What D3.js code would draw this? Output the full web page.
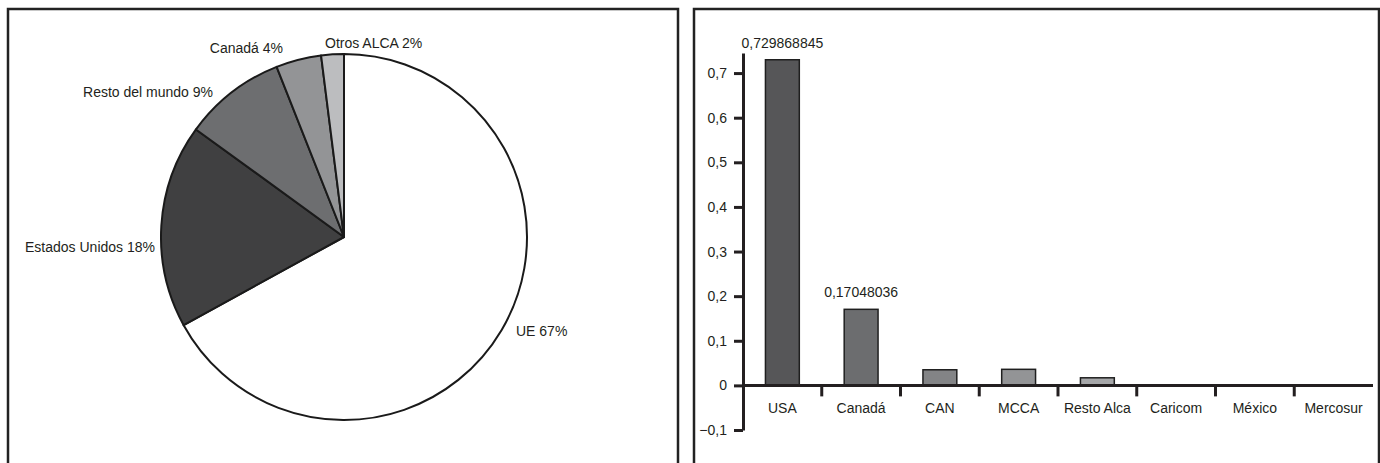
<!DOCTYPE html>
<html>
<head>
<meta charset="utf-8">
<script src="https://cdn.jsdelivr.net/npm/d3@7/dist/d3.min.js"></script>
<style>
  html, body { margin: 0; padding: 0; background: #fff; }
  svg { display: block; }
  text {
    font-family: "Liberation Sans", Arial, sans-serif;
    font-size: 14px;
    fill: #231f20;
  }
</style>
</head>
<body>
<svg id="chart" width="1380" height="463"></svg>
<script>
// Destino de las exportaciones (participación, %)
const pieLabels = ["UE", "Estados Unidos", "Resto del mundo", "Canadá", "Otros ALCA"];
const pieValues = [67, 18, 9, 4, 2];
const pieColors = ["#ffffff", "#404041", "#6d6e70", "#939496", "#bcbdbf"];

// Índice por socio comercial
const barCategories = ["USA", "Canadá", "CAN", "MCCA", "Resto Alca", "Caricom", "México", "Mercosur"];
const barValues = [0.729868845, 0.17048036, 0.035, 0.036, 0.017, 0, 0, 0];
const barValueLabels = ["0,729868845", "0,17048036", "", "", "", "", "", ""];
const barColors = ["#565658", "#6c6d6f", "#838486", "#939496", "#a6a7a9", "#a6a7a9", "#a6a7a9", "#a6a7a9"];
const yTicks = [-0.1, 0, 0.1, 0.2, 0.3, 0.4, 0.5, 0.6, 0.7];

const svg = d3.select("#chart");
const ink = "#231f20";
const fmt = d3.formatLocale({ decimal: ",", thousands: ".", grouping: [3], currency: ["", ""] }).format(",.1~f");

// Panel frames (open at the bottom)
function frame(x0, x1) {
  svg.append("path")
    .attr("d", `M${x0},463 V9 H${x1} V463`)
    .attr("fill", "none")
    .attr("stroke", "#222")
    .attr("stroke-width", 2.5);
}
frame(8, 678);
frame(694, 1379);

// ---------- Pie ----------
const cx = 344, cy = 237, r = 183;
const pie = d3.pie().sort(null).value(d => d)(pieValues);
const arc = d3.arc().innerRadius(0).outerRadius(r);
const gPie = svg.append("g").attr("transform", `translate(${cx},${cy})`);
gPie.selectAll("path")
  .data(pie)
  .join("path")
  .attr("d", arc)
  .attr("fill", (d, i) => pieColors[i])
  .attr("stroke", "#1a1a1a")
  .attr("stroke-width", 2)
  .attr("stroke-linejoin", "round");

// Slice labels, placed around the rim
const pieLabelLayout = [
  { x: 516, y: 336, anchor: "start" },
  { x: 155, y: 252, anchor: "end" },
  { x: 213, y: 97, anchor: "end" },
  { x: 283, y: 53, anchor: "end" },
  { x: 325, y: 48, anchor: "start" }
];
svg.append("g").selectAll("text")
  .data(pie)
  .join("text")
  .attr("x", (d, i) => pieLabelLayout[i].x)
  .attr("y", (d, i) => pieLabelLayout[i].y)
  .attr("text-anchor", (d, i) => pieLabelLayout[i].anchor)
  .text((d, i) => `${pieLabels[i]} ${d.value}%`);

// ---------- Bars ----------
const x0 = 743, x1 = 1373;
const x = d3.scaleBand().domain(barCategories).range([x0, x1]).paddingInner(0.57).paddingOuter(0.285);
const y = d3.scaleLinear().domain([-0.1, 0.745]).range([430, 53]);

svg.append("g")
  .selectAll("rect")
  .data(barCategories)
  .join("rect")
  .attr("x", d => x(d))
  .attr("width", x.bandwidth())
  .attr("y", (d, i) => y(Math.max(0, barValues[i])))
  .attr("height", (d, i) => Math.abs(y(barValues[i]) - y(0)))
  .attr("fill", (d, i) => barColors[i])
  .attr("stroke", "#1f1f1f")
  .attr("stroke-width", 1.5);

// Value labels above bars
svg.append("g")
  .selectAll("text")
  .data(barCategories)
  .join("text")
  .attr("x", d => x(d) + x.bandwidth() / 2)
  .attr("y", (d, i) => y(barValues[i]) - 12)
  .attr("text-anchor", "middle")
  .text((d, i) => barValueLabels[i]);

// Y axis
const yAxis = svg.append("g")
  .attr("transform", `translate(${x0},0)`)
  .call(d3.axisLeft(y).tickValues(yTicks).tickSize(9).tickPadding(7).tickFormat(fmt).tickSizeOuter(0));
yAxis.attr("font-family", null).attr("font-size", null);
yAxis.select(".domain").attr("stroke", ink).attr("stroke-width", 3);
yAxis.selectAll(".tick line").attr("stroke", ink).attr("stroke-width", 3);
yAxis.selectAll(".tick text").attr("fill", ink);

// X axis along zero
const step = x.step();
const boundaries = barCategories.slice(0, -1).map(d => x(d) + x.bandwidth() / 2 + step / 2);
const gx = svg.append("g");
gx.append("line")
  .attr("x1", x0).attr("x2", x1)
  .attr("y1", y(0)).attr("y2", y(0))
  .attr("stroke", ink).attr("stroke-width", 3);
gx.selectAll("line.tick")
  .data(boundaries)
  .join("line")
  .attr("class", "tick")
  .attr("x1", d => d).attr("x2", d => d)
  .attr("y1", y(0)).attr("y2", y(0) + 11)
  .attr("stroke", ink).attr("stroke-width", 3);
gx.selectAll("text")
  .data(barCategories)
  .join("text")
  .attr("x", d => x(d) + x.bandwidth() / 2)
  .attr("y", y(0) + 28)
  .attr("text-anchor", "middle")
  .text(d => d);
</script>
</body>
</html>
